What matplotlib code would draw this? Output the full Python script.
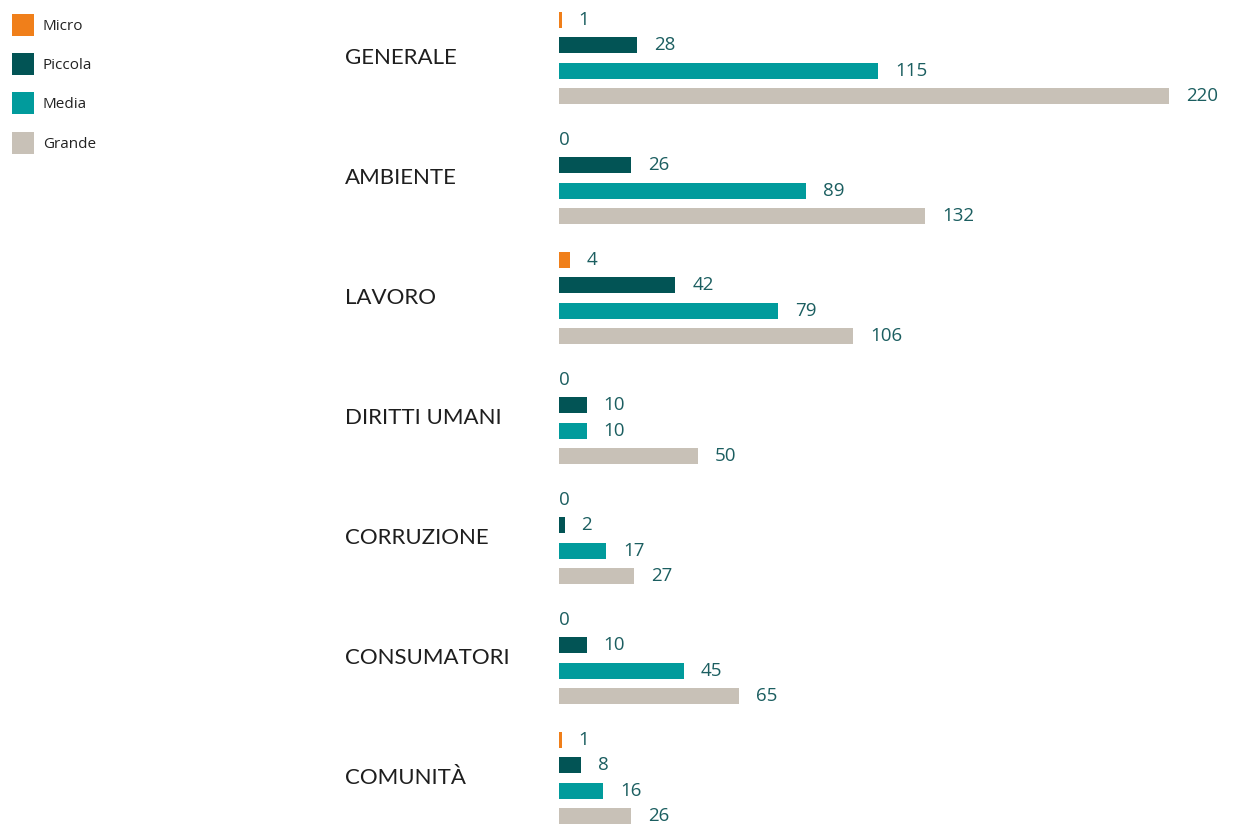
import matplotlib.pyplot as plt
from matplotlib.patches import Rectangle

categories = ["GENERALE", "AMBIENTE", "LAVORO", "DIRITTI UMANI",
              "CORRUZIONE", "CONSUMATORI", "COMUNITÀ"]
sizes = ["Micro", "Piccola", "Media", "Grande"]
micro = [1, 0, 4, 0, 0, 0, 1]
piccola = [28, 26, 42, 10, 2, 10, 8]
media = [115, 89, 79, 10, 17, 45, 16]
grande = [220, 132, 106, 50, 27, 65, 26]

colors = ["#f07f1a", "#025455", "#019b9c", "#c8c1b7"]
num_color = "#1b5e60"

W, H = 1234, 824
fig = plt.figure(figsize=(W / 100, H / 100), dpi=100)

# overlay in pixel coords for legend and category labels
bg = fig.add_axes([0, 0, 1, 1])
bg.set_xlim(0, W)
bg.set_ylim(H, 0)
bg.axis("off")

# bar axes: value 0 at x=559px, 220 at x=1169px
x0, x1 = 559, 1169
ax = fig.add_axes([x0 / W, 0, (x1 - x0) / W, 1])
ax.set_xlim(0, 220)
ax.set_ylim(H, 0)
ax.axis("off")
px_per_unit = (x1 - x0) / 220

series = [micro, piccola, media, grande]
group_top, group_step, bar_step, bar_h = 20, 120, 25.3, 16

for g, cat in enumerate(categories):
    ys = [group_top + group_step * g + bar_step * k for k in range(4)]
    for k, vals in enumerate(series):
        v = vals[g]
        ax.barh(ys[k], v, height=bar_h, color=colors[k], edgecolor="none")
        off = 0 if v == 0 else 17 / px_per_unit
        ax.text(v + off, ys[k], str(v), va="center", ha="left",
                fontsize=13.5, color=num_color, family="Open Sans")
    bg.text(345, (ys[1] + ys[2]) / 2, cat, va="center", ha="left",
            fontsize=16, color="#1e1e1e", family="Lato")

# legend
for i, (lab, c) in enumerate(zip(sizes, colors)):
    yc = 25 + 39.2 * i
    bg.add_patch(Rectangle((12, yc - 11), 22, 22, color=c, lw=0))
    bg.text(43, yc + 1.5, lab, va="center", ha="left", fontsize=11,
            color="#222222", family="Open Sans")

fig.savefig("out.png", dpi=100)
